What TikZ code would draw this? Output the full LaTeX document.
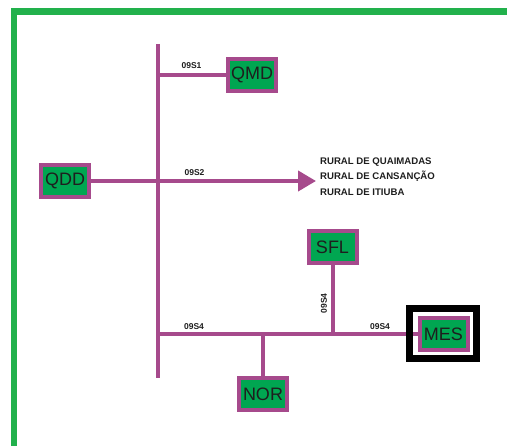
\documentclass[tikz,border=0pt]{standalone}
\usepackage{fontspec}
\setmainfont{Liberation Sans}
\usetikzlibrary{arrows.meta}
\definecolor{linepurple}{RGB}{166,74,140}
\definecolor{boxgreen}{RGB}{0,166,81}
\definecolor{framegreen}{RGB}{34,177,76}
\definecolor{txtdark}{RGB}{30,30,30}
\tikzset{
    sub/.style={draw=linepurple, line width=4pt, fill=boxgreen, minimum width=48pt,
        minimum height=32pt, inner sep=0pt, font=\fontsize{18}{18}\selectfont, text=txtdark},
    feeder/.style={draw=linepurple, line width=4pt},
    code/.style={font=\bfseries\fontsize{8.5}{8.5}\selectfont, text=txtdark, inner sep=0pt}
}
\begin{document}
\begin{tikzpicture}[x=1pt, y=-1pt]
    \useasboundingbox (0,0) rectangle (507,446);
    % Frame (top and left)
    \draw[framegreen, line width=6.5pt] (14,446) -- (14,11.5) -- (507,11.5);

    % Main bus
    \coordinate (bustop) at (158,44);
    \coordinate (busbot) at (158,378);
    \draw[feeder] (bustop) -- (busbot);

    % QMD (top)
    \node[sub] (qmd) at (252,75) {QMD};
    \draw[feeder] (qmd.west) -- (qmd.west -| bustop);
    \node[code] (l1) at (191.5,66) {09S1};

    % QDD and the rural feeder
    \node[sub] (qdd) at (65,181) {QDD};
    \coordinate (tip) at (316,181);
    \draw[feeder, -{Triangle[length=18pt, width=20pt]}] (qdd.east) -- (tip);
    \node[code] (l2) at (194.5,173) {09S2};
    \node[anchor=west, align=left, font=\bfseries\fontsize{9.6}{15.5}\selectfont,
        text=txtdark, inner sep=0pt] (rural) at (320,176.5) {
        RURAL DE QUAIMADAS\\
        RURAL DE CANSANÇÃO\\
        RURAL DE ITIUBA
    };

    % Lower bus 09S4
    \coordinate (b4) at (158,334);
    \node[sub] (mes) at (443.5,334) {MES};
    \draw[feeder] (b4) -- (mes.west);
    \node[draw=black, line width=7pt, minimum width=67pt, minimum height=50pt] (mesframe) at (443,333.5) {};
    \node[code] (l3) at (194,327) {09S4};
    \node[code] (l4) at (380,327) {09S4};

    % SFL (above) and NOR (below)
    \node[sub] (sfl) at (332.5,247) {SFL};
    \draw[feeder] (sfl.south) -- (sfl.south |- b4);
    \node[code, rotate=90] (l5) at (324,303.5) {09S4};
    \node[sub] (nor) at (263,394.5) {NOR};
    \draw[feeder] (nor.north) -- (nor.north |- b4);
\end{tikzpicture}
\end{document}
